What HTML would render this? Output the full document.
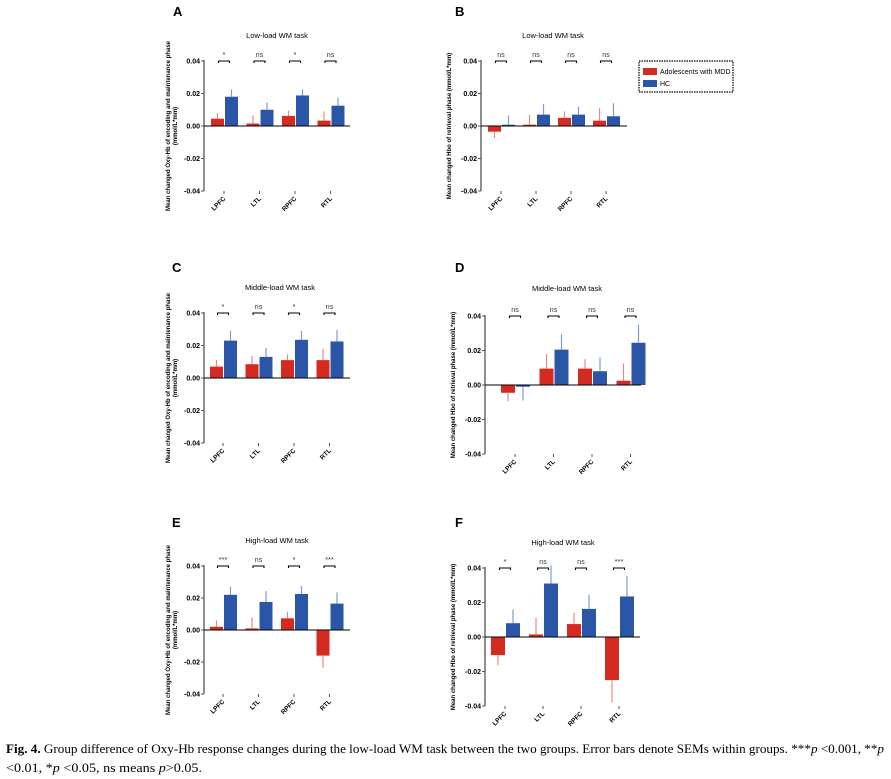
<!DOCTYPE html>
<html><head><meta charset="utf-8"><style>
body{margin:0;background:#fff}
svg{display:block;font-family:"Liberation Sans",sans-serif}
</style></head><body>
<svg id="fig" width="891" height="779" viewBox="0 0 891 779" xmlns="http://www.w3.org/2000/svg">
<text x="6" y="753" font-family="Liberation Serif,serif" font-size="13" textLength="878" lengthAdjust="spacingAndGlyphs"><tspan font-weight="bold">Fig. 4.</tspan>  Group difference of Oxy-Hb response changes during the low-load WM task between the two groups. Error bars denote SEMs within groups. ***<tspan font-style="italic">p</tspan> &lt;0.001, **<tspan font-style="italic">p</tspan></text>
<text x="6" y="772" font-family="Liberation Serif,serif" font-size="13" textLength="196" lengthAdjust="spacingAndGlyphs">&lt;0.01, *<tspan font-style="italic">p</tspan> &lt;0.05, ns means <tspan font-style="italic">p</tspan>&gt;0.05.</text>
<g>
<rect x="639" y="61" width="94" height="31" fill="#fff" stroke="#000" stroke-width="1.2" stroke-dasharray="1.5,1"/>
<rect x="643" y="68" width="14" height="7" fill="#d42a20"/>
<text x="660" y="74" font-size="7">Adolescents with MDD</text>
<rect x="643" y="80" width="14" height="7" fill="#2b56a8"/>
<text x="660" y="86" font-size="7">HC</text>
</g>
</svg>
<script>
const regions = ["LPFC","LTL","RPFC","RTL"];
const yTicks = [0.04,0.02,0,-0.02,-0.04];
const yTickLabels = ["0.04","0.02","0.00","-0.02","-0.04"];
const mddA=[0.0045,0.0015,0.0062,0.0033], mddErrA=[0.008,0.0065,0.0095,0.009];
const hcA=[0.018,0.010,0.0188,0.0125], hcErrA=[0.0225,0.0145,0.0225,0.0175];
const sigA=["*","ns","*","ns"];
const mddB=[-0.0035,0.0008,0.005,0.0033], mddErrB=[-0.0075,0.007,0.009,0.011];
const hcB=[0.0008,0.007,0.007,0.006], hcErrB=[0.0065,0.0135,0.012,0.014];
const sigB=["ns","ns","ns","ns"];
const mddC=[0.007,0.0085,0.011,0.011], mddErrC=[0.011,0.0135,0.0145,0.018];
const hcC=[0.023,0.013,0.0235,0.0225], hcErrC=[0.029,0.0185,0.029,0.0295];
const sigC=["*","ns","*","ns"];
const mddD=[-0.0045,0.0095,0.0095,0.0025], mddErrD=[-0.0095,0.018,0.015,0.0125];
const hcD=[-0.001,0.0205,0.008,0.0245], hcErrD=[-0.009,0.0295,0.016,0.035];
const sigD=["ns","ns","ns","ns"];
const mddE=[0.002,0.001,0.0073,-0.016], mddErrE=[0.006,0.008,0.0115,-0.0235];
const hcE=[0.022,0.0175,0.0225,0.0165], hcErrE=[0.027,0.0243,0.0275,0.0235];
const sigE=["***","ns","*","***"];
const mddF=[-0.0105,0.0015,0.0075,-0.025], mddErrF=[-0.0165,0.011,0.014,-0.038];
const hcF=[0.008,0.031,0.0163,0.0235], hcErrF=[0.016,0.0415,0.0245,0.0355];
const sigF=["*","ns","ns","***"];

const NS="http://www.w3.org/2000/svg";
const svg=document.getElementById('fig');
function mk(tag,attrs,parent,text){const e=document.createElementNS(NS,tag);for(const k in attrs)e.setAttribute(k,attrs[k]);if(text!==undefined)e.textContent=text;(parent||svg).appendChild(e);return e;}

const panels=[
 {id:"a",letter:"A",lx:173,ly:16,title:"Low-load WM task",tx:277,ty:38,ax:204,y40:61,y0:126,right:350,first:211,sp:35.5,bw:13,ylab:["Mean changed Oxy-Hb of encoding and maintenance phase","(mmol/L*mm)"],mdd:mddA,mddE:mddErrA,hc:hcA,hcE:hcErrA,sig:sigA},
 {id:"b",letter:"B",lx:455,ly:16,title:"Low-load WM task",tx:553,ty:38,ax:481,y40:61,y0:126,right:627,first:488,sp:35,bw:13,ylab:["Mean changed Hbo of retrieval phase (mmol/L*mm)"],mdd:mddB,mddE:mddErrB,hc:hcB,hcE:hcErrB,sig:sigB},
 {id:"c",letter:"C",lx:172,ly:272,title:"Middle-load WM task",tx:280,ty:290,ax:204,y40:313,y0:378,right:350,first:210,sp:35.5,bw:13,ylab:["Mean changed Oxy-Hb of encoding and maintenance phase","(mmol/L*mm)"],mdd:mddC,mddE:mddErrC,hc:hcC,hcE:hcErrC,sig:sigC},
 {id:"d",letter:"D",lx:455,ly:272,title:"Middle-load WM task",tx:567,ty:291,ax:485,y40:316,y0:385,right:641,first:501,sp:38.5,bw:14,ylab:["Mean changed Hbo of retrieval phase (mmol/L*mm)"],mdd:mddD,mddE:mddErrD,hc:hcD,hcE:hcErrD,sig:sigD},
 {id:"e",letter:"E",lx:172,ly:527,title:"High-load WM task",tx:277,ty:543,ax:204,y40:566,y0:630,right:350,first:210,sp:35.5,bw:13,ylab:["Mean changed Oxy-Hb of encoding and maintenance phase","(mmol/L*mm)"],mdd:mddE,mddE:mddErrE,hc:hcE,hcE:hcErrE,sig:sigE},
 {id:"f",letter:"F",lx:455,ly:527,title:"High-load WM task",tx:563,ty:545,ax:485,y40:568,y0:637,right:640,first:491,sp:38,bw:14,ylab:["Mean changed Hbo of retrieval phase (mmol/L*mm)"],mdd:mddF,mddE:mddErrF,hc:hcF,hcE:hcErrF,sig:sigF}
];

panels.forEach(p=>{
 const g=mk('g',{});
 
 
 const yS=v=>p.y0-(v/0.04)*(p.y0-p.y40);
 const ym40=yS(-0.04);
 const L=mk('text',{x:p.lx,y:p.ly,'font-size':13,'font-weight':'bold'},g,p.letter);
 
 
 const T=mk('text',{x:p.tx,y:p.ty,'font-size':7.5,'text-anchor':'middle'},g,p.title);
 
 
 const ya=mk('line',{x1:p.ax,y1:p.y40-1,x2:p.ax,y2:ym40,stroke:'#555','stroke-width':1.3},g);
 
 
 yTicks.forEach((t,i)=>{
  const y=yS(t);
  mk('line',{x1:p.ax-3,y1:y,x2:p.ax,y2:y,stroke:'#555','stroke-width':1},g);
  const tl=mk('text',{x:p.ax-4,y:y+2.5,'font-size':7,'font-weight':'bold','text-anchor':'end'},g,yTickLabels[i]);
  
  
 });
 const cy=(p.y40+ym40)/2;
 const lx0=p.ylab.length>1?p.ax-34:p.ax-30;
 const yl=mk('text',{transform:`translate(${lx0},${cy}) rotate(-90)`,'font-size':6,'font-weight':'bold','text-anchor':'middle'},g);
 
 
 p.ylab.forEach((s,i)=>mk('tspan',{x:0,dy:i?7:0},yl,s));
 regions.forEach((r,i)=>{
  const xr=p.first+i*p.sp;
  const cx=xr+p.bw;
  mk('line',{x1:cx,y1:ym40,x2:cx,y2:ym40+3,stroke:'#555','stroke-width':1},g);
  const xl=mk('text',{transform:`translate(${cx+2},${ym40+8}) rotate(-45)`,'font-size':6.5,'font-weight':'bold','text-anchor':'end'},g,r);
  
  
  [[p.mdd[i],p.mddE[i],xr,'#d42a20','#e88a84','bar-mdd-'],[p.hc[i],p.hcE[i],xr+p.bw+1,'#2b56a8','#7f9ccf','bar-hc-']].forEach(b=>{
   const [v,e,x,c,lc,nm]=b;
   const y=yS(v), y0=p.y0;
   const bar=mk('rect',{x:x,y:Math.min(y,y0),width:p.bw,height:Math.max(0.8,Math.abs(y-y0)),fill:c},g);
   
   
   const eb=mk('line',{x1:x+p.bw/2,y1:y,x2:x+p.bw/2,y2:yS(e),stroke:lc,'stroke-width':1.2},g);
   
   
  });
  const by=p.y40;
  const br=mk('path',{d:`M${cx-5.5},${by+2} V${by} H${cx+5.5} V${by+2}`,fill:'none',stroke:'#000','stroke-width':1.1},g);
  
  
  const st=mk('text',{x:cx,y:by-4,'font-size':p.sig[i]==='ns'?7:7.5,'text-anchor':'middle',fill:'#333'},g,p.sig[i]);
  
  
 });
 const zl=mk('line',{x1:p.ax,y1:p.y0,x2:p.right,y2:p.y0,stroke:'#000','stroke-width':1.1},g);
 
 
});
</script>
</body></html>
